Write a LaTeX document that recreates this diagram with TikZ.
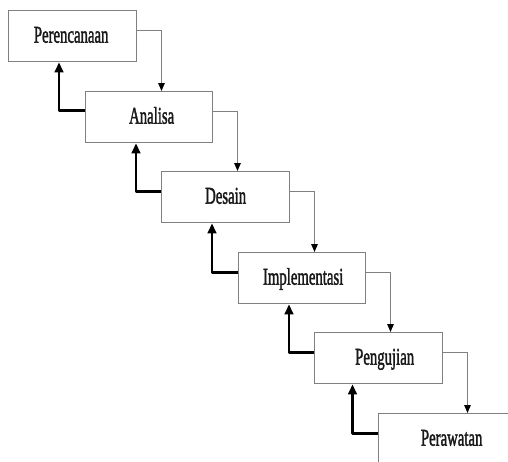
\documentclass[tikz,border=0pt]{standalone}
\usepackage{fontspec}
\setmainfont{Liberation Serif}
\newfontfamily\stagefont[FakeBold=2]{Liberation Serif}
\usetikzlibrary{arrows.meta,calc}
\newcommand\lbl[1]{\stagefont\fontsize{24}{24}\selectfont\scalebox{0.615}[1]{#1}}
\tikzset{
  stage/.style={draw=black!50, line width=1.3pt, fill=white, anchor=north west,
    minimum height=51pt, inner sep=0pt, text height=16pt, text depth=3pt, text=black!90},
  fwd/.style={draw=black!50, line width=1.3pt,
    -{Triangle[length=8pt,width=6.5pt,color=black]}},
  back/.style={draw=black, line width=2.8pt, line join=round,
    -{Triangle[length=10pt,width=8.5pt]}}
}
\begin{document}
\begin{tikzpicture}[x=1pt,y=1pt]
\path[use as bounding box, clip] (0,0) rectangle (508,-461);
\fill[white] (0,0) rectangle (508,-461);
\node[stage, minimum width=128pt] (b1) at (8,-10) {\hspace*{-3pt}\lbl{Perencanaan}};
\node[stage, minimum width=127pt] (b2) at (85,-91) {\hspace*{5pt}\lbl{Analisa}};
\node[stage, minimum width=128pt] (b3) at (161,-171) {\lbl{Desain}};
\node[stage, minimum width=127pt] (b4) at (238,-252) {\hspace*{2pt}\lbl{Implementasi}};
\node[stage, minimum width=128pt] (b5) at (314,-332) {\hspace*{12pt}\lbl{Pengujian}};
\node[stage, minimum width=142pt] (b6) at (378,-413) {\hspace*{4pt}\lbl{Perawatan}};
% forward (gray) connectors
\draw[fwd] ([yshift=6pt]b1.east) -| ([xshift=76.5pt]b2.north west);
\draw[fwd] ([yshift=6pt]b2.east) -| ([xshift=76.5pt]b3.north west);
\draw[fwd] ([yshift=6pt]b3.east) -| ([xshift=76.5pt]b4.north west);
\draw[fwd] ([yshift=6pt]b4.east) -| ([xshift=76.5pt]b5.north west);
\draw[fwd] ([yshift=6pt]b5.east) -| ([xshift=89.5pt]b6.north west);
% feedback (black) connectors
\draw[back] ([yshift=6.5pt]b2.west) -| ([xshift=51pt]b1.south west);
\draw[back] ([yshift=6pt]b3.west) -| ([xshift=51pt]b2.south west);
\draw[back] ([yshift=6pt]b4.west) -| ([xshift=51pt]b3.south west);
\draw[back] ([yshift=6pt]b5.west) -| ([xshift=51pt]b4.south west);
\draw[back] ([yshift=6pt]b6.west) -| ([xshift=38.5pt]b5.south west);
\end{tikzpicture}
\end{document}
